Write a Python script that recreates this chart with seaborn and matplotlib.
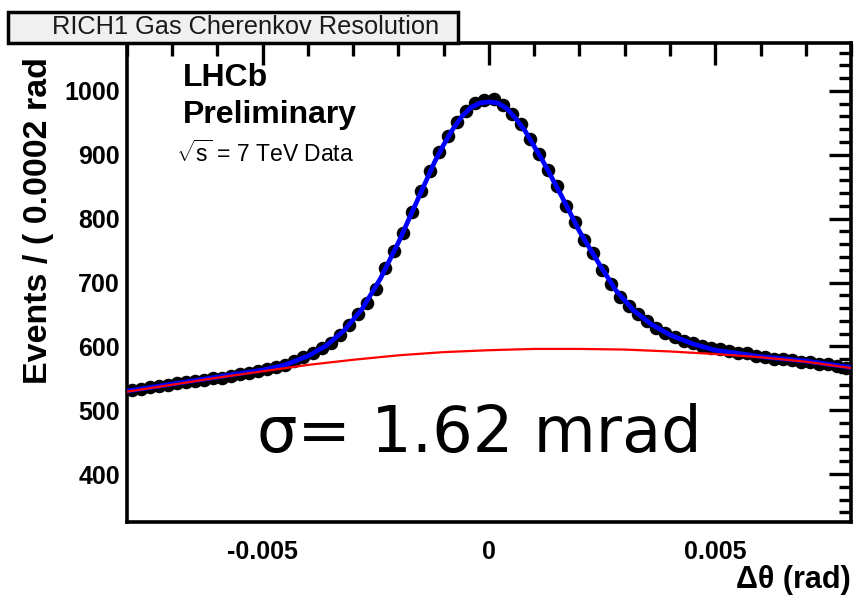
import numpy as np
import seaborn as sns
import matplotlib.pyplot as plt
from matplotlib.patches import Rectangle
from matplotlib.ticker import MultipleLocator

# histogram: 80 bins of 0.0002 rad between -0.008 and 0.008
bin_width = 0.0002
theta_lo = -0.008
n_bins = 80
theta = np.round(theta_lo + bin_width * (np.arange(n_bins) + 0.5), 5)

# events per bin (left to right)
events = [
    531, 533, 537, 538, 539, 543, 544, 545, 548, 550,
    551, 554, 557, 558, 562, 564, 568, 571, 577,
    583, 590, 597, 606, 618, 633, 650, 668, 690, 723, 750, 777, 810,
    843, 874, 904, 930, 951, 969, 981, 986,
    988, 978, 964, 948, 925, 901, 876, 851,
    820, 794, 767, 746, 720, 697, 678, 663, 650, 639, 629, 621, 615, 609, 605,
    601, 597, 596, 592, 589, 589, 585, 584, 581, 580, 579, 576, 576, 573, 572, 570, 566,
]

# total fit (blue)
fit_x = [-0.008, -0.007, -0.006, -0.005, -0.0045, -0.004, -0.0036, -0.0032, -0.0028,
         -0.0024, -0.002, -0.0016, -0.0012, -0.001, -0.0008, -0.0006, -0.0004, -0.0002,
         0.0, 0.0002, 0.0004, 0.0006, 0.0008, 0.001, 0.0012, 0.0016, 0.002, 0.0024,
         0.0028, 0.0032, 0.0036, 0.004, 0.0045, 0.005, 0.006, 0.007, 0.008]
fit_y = [530, 541, 552, 563, 571, 585, 601, 625, 659,
         706, 763, 826, 889, 916, 940, 960, 974, 981,
         983, 981, 972, 956, 937, 913, 889, 836, 780, 733,
         688, 656, 634, 618, 604, 594, 584, 577, 567]

# background component (red)
bkg_x = [-0.008, -0.007, -0.006, -0.005, -0.004, -0.003, -0.002, -0.001, 0.0,
         0.001, 0.002, 0.003, 0.004, 0.005, 0.006, 0.007, 0.008]
bkg_y = [529, 540, 551, 561, 571, 579, 586, 591, 594,
         596, 596, 595, 592, 588, 583, 576, 566]

x_ticks = [-0.005, 0.0, 0.005]
x_tick_labels = ["-0.005", "0", "0.005"]
y_ticks = [400, 500, 600, 700, 800, 900, 1000]
y_tick_labels = ["400", "500", "600", "700", "800", "900", "1000"]

sns.set_theme(style="white")
plt.rcParams["font.family"] = ["Liberation Sans", "DejaVu Sans"]
plt.rcParams["mathtext.fontset"] = "custom"
plt.rcParams["mathtext.rm"] = "Liberation Sans"
plt.rcParams["text.color"] = "black"
plt.rcParams["xtick.color"] = "black"
plt.rcParams["ytick.color"] = "black"
plt.rcParams["xtick.labelcolor"] = "black"
plt.rcParams["ytick.labelcolor"] = "black"

W, H = 858, 596
fig = plt.figure(figsize=(W / 100, H / 100), dpi=100)
fig.patch.set_facecolor("white")
ax = fig.add_axes([127 / W, 1 - 522 / H, (851 - 127) / W, (522 - 43) / H])
ax.set_facecolor("white")

sns.scatterplot(x=theta, y=events, ax=ax, color="black", s=95, linewidth=0, zorder=2)
sns.lineplot(x=fit_x, y=fit_y, ax=ax, color="#0000ff", lw=3.4, zorder=3)
sns.lineplot(x=bkg_x, y=bkg_y, ax=ax, color="#ff0000", lw=1.6, zorder=4)

ax.set_xlim(-0.008, 0.008)
ax.set_ylim(325, 1075)
ax.set_xticks(x_ticks, x_tick_labels)
ax.set_yticks(y_ticks, y_tick_labels)
ax.xaxis.set_minor_locator(MultipleLocator(0.001))
ax.yaxis.set_minor_locator(MultipleLocator(20))
ax.tick_params(which="both", direction="in", top=True, right=True, width=2.4, color="black")
ax.tick_params(which="major", length=16)
ax.tick_params(which="minor", length=9)
ax.tick_params(axis="x", which="major", pad=13, labelsize=18)
ax.tick_params(axis="y", which="major", pad=5, labelsize=18)
for lab in ax.get_xticklabels() + ax.get_yticklabels():
    lab.set_fontweight("bold")
for sp in ax.spines.values():
    sp.set_linewidth(2.6)
    sp.set_color("black")
ax.set_xlabel("")
ax.set_ylabel("")

# axis titles (the closing bracket of the y title is hidden under the title box)
fig.text(851 / W, 1 - 588 / H, "Δθ (rad)", ha="right", va="baseline",
         fontsize=22, fontweight="bold")
fig.text(39 / W, 1 - 384 / H, "Events / ( 0.0002 rad", ha="left", va="center",
         rotation=90, rotation_mode="anchor", fontsize=24.5, fontweight="bold")

# title box
fig.add_artist(Rectangle((8 / W, 1 - 43 / H), (458 - 8) / W, (43 - 12) / H,
                         transform=fig.transFigure, facecolor="#f0f0f0",
                         edgecolor="black", lw=2.5, zorder=10))
fig.text(246 / W, 1 - 27 / H, "RICH1 Gas Cherenkov Resolution", ha="center", va="center",
         fontsize=18.3, color="#1a1a1a", zorder=11)

# labels inside the frame
fig.text(183 / W, 1 - 86 / H, "LHCb", ha="left", va="baseline", fontsize=23, fontweight="bold")
fig.text(183 / W, 1 - 123 / H, "Preliminary", ha="left", va="baseline", fontsize=23,
         fontweight="bold")
fig.text(176 / W, 1 - 162 / H, r"$\sqrt{\mathrm{s}}$ = 7 TeV Data", ha="left", va="baseline",
         fontsize=16.5)
fig.text(479 / W, 1 - 452 / H, "σ= 1.62 mrad", ha="center", va="baseline", fontsize=46,
         family="DejaVu Sans", color="black")

fig.savefig("out.png", dpi=100)
